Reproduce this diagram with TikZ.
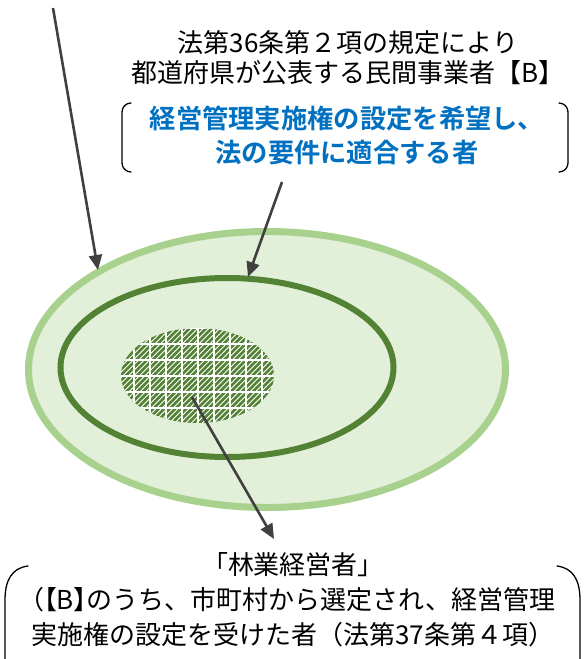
\documentclass[tikz,border=0pt]{standalone}
\usepackage{fontspec}
\setmainfont{Noto Sans CJK JP}
\newfontfamily\jpbold{Noto Sans CJK JP Bold}
\newfontfamily\pfont[RawFeature=+palt]{Noto Sans CJK JP}
\usetikzlibrary{arrows.meta}
\definecolor{outerline}{HTML}{A9D18E}
\definecolor{outerfill}{HTML}{E2F0D9}
\definecolor{innerline}{HTML}{548235}
\definecolor{arrowgray}{HTML}{404040}
\definecolor{blueText}{HTML}{0070C0}
\tikzset{
  pointer/.style={draw=arrowgray, line width=2.6pt, -{Triangle[length=15pt,width=13pt]}},
  txt/.style={inner sep=0pt, align=center, font=\fontsize{26}{30}\selectfont},
  brk/.style={draw=black, line width=1.3pt, line cap=round},
}
\begin{document}
\begin{tikzpicture}[x=1pt, y=-1pt]
\useasboundingbox (0,0) rectangle (586,659);
\fill[white] (0,0) rectangle (586,659);

% ellipses
\draw[outerline, fill=outerfill, line width=7pt] (267,369.5) ellipse [x radius=238.5pt, y radius=138pt];
\draw[innerline, line width=6pt] (227,367.5) ellipse [x radius=166.5pt, y radius=89.5pt];

% hatched ellipse
\begin{scope}
  \clip (197.5,375.5) ellipse [x radius=76.5pt, y radius=47.5pt];
  \fill[white] (110,320) rectangle (290,430);
  \foreach \a in {0,5.5,...,270} {
    \draw[innerline, line width=2.6pt] (\a,430) -- (\a+120,310);
  }
  \foreach \gx in {118,134,...,290} {
    \draw[white, line width=1.1pt] (\gx,320) -- (\gx,430);
  }
  \foreach \gy in {328,344,...,430} {
    \draw[white, line width=1.1pt] (110,\gy) -- (290,\gy);
  }
\end{scope}

% texts
\node[txt] (top) at (348,58) {法第36条第２項の規定により\\都道府県が公表する民間事業者【B】};
\node[txt, font=\jpbold\fontsize{26.3}{34}\selectfont, text=blueText] (blue) at (347,135) {経営管理実施権の設定を希望し、\\法の要件に適合する者};
\node[txt, font=\fontsize{26}{35}\selectfont] (bottom) at (293,600) {「林業経営者」\\{\pfont （【B】}のうち、市町村から選定され、経営管理\\実施権の設定を受けた者（法第37条第４項）};

% brackets
\draw[brk] (131,103) arc[start angle=90, end angle=180, radius=9pt] -- (122,163) arc[start angle=180, end angle=270, radius=9pt];
\draw[brk] (559,103) arc[start angle=90, end angle=0, radius=9pt] -- (568,163) arc[start angle=0, end angle=-90, radius=9pt];
\draw[brk] (28,566) .. controls (12,568) and (5,580) .. (5,600) -- (5,665);
\draw[brk] (557,566) .. controls (573,568) and (580,580) .. (580,600) -- (580,665);

% arrows
\coordinate (s1) at (53,8);
\coordinate (e1) at (98,270);
\coordinate (s2) at (282,182);
\coordinate (e2) at (248,277);
\coordinate (s3) at (192,397);
\coordinate (e3) at (274,539);
\draw[pointer] (s1) -- (e1);
\draw[pointer] (s2) -- (e2);
\draw[pointer] (s3) -- (e3);
\end{tikzpicture}
\end{document}
